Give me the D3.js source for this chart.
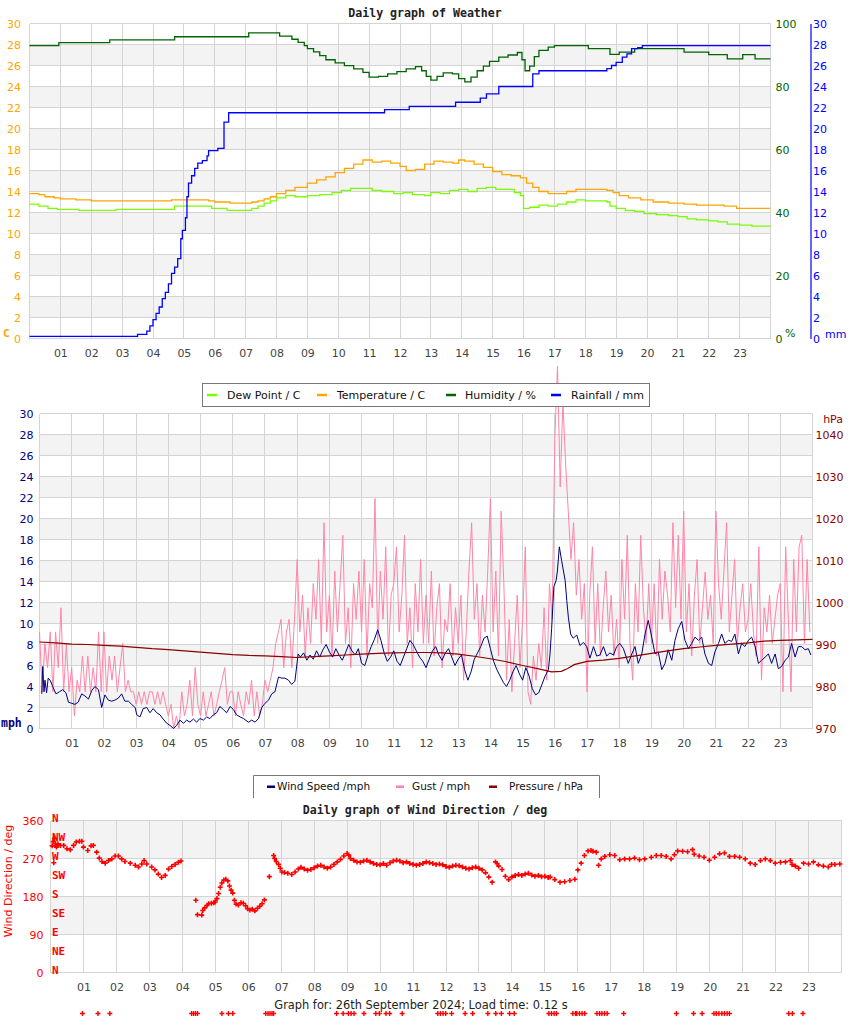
<!DOCTYPE html>
<html lang="en">
<head>
<meta charset="UTF-8">
<title>Daily graph of Weather</title>
<script src="https://d3js.org/d3.v7.min.js"></script>
<style>
    * { margin: 0; padding: 0; box-sizing: border-box; }
    body { background: #fff; font-family: "DejaVu Sans", sans-serif; }
    svg { display: block; }
    .mono { font-family: "DejaVu Sans Mono", monospace; font-weight: bold; }
</style>
</head>
<body>
<div id="chart"></div>
<script>
// ---- data (hour of day, value) ----
const hourLabels = ["01","02","03","04","05","06","07","08","09","10","11","12",
                    "13","14","15","16","17","18","19","20","21","22","23"];
const hourTicks = hourLabels.map(d => +d);

const temperature = [[0,13.8],[0.3,13.7],[0.5,13.5],[0.8,13.4],[1.0,13.3],[1.5,13.2],[2.0,13.1],
    [4.6,13.2],[5.8,13.1],[6.0,13.0],[6.5,12.9],[7.2,13.0],[7.4,13.1],[7.6,13.3],[7.8,13.5],
    [8.0,13.8],[8.3,14.1],[8.6,14.4],[9.0,14.8],[9.3,15.1],[9.6,15.4],[9.9,15.8],[10.2,16.2],
    [10.5,16.6],[10.8,17.0],[11.1,16.8],[11.4,16.9],[11.7,16.7],[12.0,16.4],[12.2,16.0],[12.5,16.1],
    [12.8,16.6],[13.1,16.9],[13.4,16.8],[13.7,16.7],[13.9,17.0],[14.1,16.9],[14.4,16.6],[14.7,16.3],
    [15.0,15.9],[15.3,15.6],[15.6,15.5],[15.9,15.3],[16.1,14.8],[16.3,14.4],[16.5,14.0],[16.8,13.8],
    [17.4,14.0],[17.7,14.2],[18.7,14.1],[18.9,13.9],[19.1,13.6],[19.4,13.4],[19.8,13.2],[20.2,13.0],
    [20.7,12.9],[21.2,12.8],[21.6,12.7],[22.5,12.6],[22.9,12.4],[24,12.4]];

const dewPoint = [[0,12.8],[0.3,12.6],[0.6,12.4],[0.9,12.3],[1.6,12.2],[2.8,12.3],[4.7,12.6],
    [5.9,12.4],[6.4,12.2],[7.2,12.4],[7.4,12.6],[7.6,12.9],[7.8,13.1],[8.0,13.4],[8.3,13.6],
    [8.6,13.5],[9.0,13.6],[9.4,13.7],[9.8,13.9],[10.1,14.1],[10.4,14.3],[11.1,14.1],[11.4,14.0],
    [11.8,13.8],[12.1,13.9],[12.4,13.7],[12.8,13.6],[13.0,13.9],[13.3,13.8],[13.6,14.1],[13.9,14.2],
    [14.2,14.0],[14.5,14.3],[14.8,14.4],[15.1,14.2],[15.7,13.9],[15.9,13.6],[16.0,12.4],[16.2,12.5],
    [16.5,12.7],[16.8,12.6],[17.1,12.8],[17.4,13.0],[17.7,13.2],[18.0,13.1],[18.7,13.0],[18.8,12.6],
    [19.0,12.4],[19.3,12.2],[19.6,12.1],[19.9,11.9],[20.3,11.8],[20.7,11.7],[21.0,11.6],[21.3,11.4],
    [21.6,11.3],[22.0,11.2],[22.3,11.1],[22.6,10.9],[23.0,10.8],[23.4,10.7],[24,10.7]];

const humidity = [[0,93.0],[0.95,93.9],[2.6,94.8],[4.7,95.8],[7.1,97.0],[8.1,96.0],[8.5,95.0],
    [8.7,94.0],[8.9,93.0],[9.0,92.0],[9.2,91.0],[9.4,89.8],[9.6,88.5],[9.9,87.5],[10.2,86.6],
    [10.5,85.6],[10.8,84.5],[11.0,83.0],[11.3,83.2],[11.6,84.0],[11.9,84.7],[12.2,85.6],[12.5,86.3],
    [12.7,85.0],[12.85,83.2],[13.0,82.0],[13.2,83.2],[13.4,84.3],[13.7,84.0],[13.9,82.5],[14.1,81.5],
    [14.3,83.0],[14.5,85.0],[14.7,86.5],[14.9,88.0],[15.2,89.3],[15.5,90.0],[15.8,90.8],[15.95,88.5],
    [16.05,85.0],[16.2,86.5],[16.35,89.5],[16.5,91.5],[16.8,92.5],[17.0,93.0],[18.1,92.0],[18.8,90.2],
    [19.1,90.9],[19.6,92.0],[21.2,90.9],[22.0,90.1],[22.6,88.8],[23.1,90.1],[23.5,88.8],[24,88.8]];

const rainfall = [[0,0.2],[3.5,0.4],[3.8,0.7],[3.9,1.2],[4.0,1.8],[4.1,2.4],[4.2,3.0],[4.3,3.8],
    [4.4,4.4],[4.5,5.2],[4.6,6.2],[4.7,6.8],[4.8,7.6],[4.9,9.5],[4.95,10.3],[5.05,11.5],[5.1,13.5],
    [5.15,14.8],[5.25,15.5],[5.35,16.2],[5.45,16.7],[5.6,16.95],[5.75,17.4],[5.8,17.9],[6.1,18.1],
    [6.3,20.6],[6.45,21.5],[11.5,21.8],[12.3,22.1],[13.8,22.5],[14.6,22.9],[14.8,23.3],[15.2,24.0],
    [16.3,25.2],[16.5,25.5],[18.7,25.7],[18.85,26.0],[19.0,26.3],[19.2,26.8],[19.35,27.1],[19.5,27.6],
    [19.7,27.7],[19.85,27.9],[24,27.9]];

const windSpeed = [[0.07,3.3],[0.1,5.9],[0.14,3.5],[0.17,4.6],[0.22,3.4],[0.27,4.8],[0.33,4.6],
    [0.41,4.0],[0.51,3.3],[0.62,3.5],[0.72,3.7],[0.82,3.4],[0.9,2.5],[1.0,2.4],[1.1,2.3],[1.2,2.5],
    [1.31,3.3],[1.41,3.1],[1.52,2.8],[1.62,3.6],[1.72,4.0],[1.83,3.7],[1.93,2.0],[2.03,3.2],[2.14,2.7],
    [2.24,2.6],[2.34,2.7],[2.45,2.9],[2.55,3.3],[2.65,2.6],[2.76,2.6],[2.86,2.3],[2.97,2.0],[3.02,1.3],
    [3.12,1.1],[3.22,1.9],[3.33,2.0],[3.43,1.5],[3.53,1.9],[3.64,1.5],[3.74,1.3],[3.84,0.9],[3.95,0.5],
    [4.05,0.3],[4.16,0.0],[4.26,0.3],[4.36,0.8],[4.47,0.5],[4.57,0.8],[4.67,0.6],[4.78,0.9],[4.88,0.6],
    [4.98,0.95],[5.09,0.8],[5.19,1.1],[5.29,0.95],[5.4,1.3],[5.5,1.5],[5.6,2.1],[5.71,1.8],[5.81,1.5],
    [5.92,2.1],[6.02,1.8],[6.12,1.3],[6.23,1.1],[6.33,0.95],[6.49,0.6],[6.59,0.8],[6.69,0.6],[6.8,0.95],
    [6.9,2.0],[7.0,2.4],[7.11,2.7],[7.21,3.3],[7.31,3.5],[7.42,4.9],[7.52,4.8],[7.62,4.8],[7.73,4.6],
    [7.83,4.2],[7.93,4.5],[8.03,7.1],[8.1,6.8],[8.2,7.2],[8.3,6.5],[8.4,7.0],[8.5,6.6],[8.6,7.4],
    [8.7,6.8],[8.8,7.5],[8.9,8.0],[9.0,7.3],[9.1,6.8],[9.2,7.6],[9.3,7.0],[9.4,6.5],[9.5,7.2],[9.6,8.0],
    [9.7,7.4],[9.8,7.0],[9.9,7.6],[10.0,6.2],[10.1,6.0],[10.2,7.0],[10.3,7.8],[10.4,8.5],[10.5,9.4],
    [10.6,8.4],[10.7,7.2],[10.8,6.4],[10.9,6.8],[11.0,7.4],[11.1,6.4],[11.2,6.0],[11.3,6.8],[11.4,7.6],
    [11.5,8.4],[11.6,8.0],[11.7,7.4],[11.8,6.8],[11.9,6.4],[12.0,5.8],[12.1,6.6],[12.2,7.4],[12.3,7.8],
    [12.4,7.0],[12.5,6.5],[12.6,7.2],[12.7,7.6],[12.8,6.8],[12.9,6.0],[13.0,6.6],[13.1,7.0],[13.2,5.6],
    [13.3,4.6],[13.4,5.4],[13.5,6.6],[13.6,7.2],[13.7,7.8],[13.8,8.6],[13.9,8.8],[14.0,7.6],[14.1,6.4],
    [14.2,5.6],[14.3,5.0],[14.4,4.4],[14.5,4.0],[14.6,4.6],[14.7,5.4],[14.8,6.0],[14.9,5.2],[15.0,4.6],
    [15.1,5.8],[15.2,5.0],[15.3,3.8],[15.4,3.2],[15.5,3.4],[15.6,4.2],[15.7,5.0],[15.8,5.6],[15.85,7.1],
    [15.9,9.5],[15.97,13.5],[16.04,14.1],[16.08,15.0],[16.14,17.3],[16.21,16.0],[16.32,14.1],[16.37,12.2],
    [16.42,10.6],[16.49,9.0],[16.57,8.6],[16.68,8.9],[16.78,7.9],[16.89,8.2],[16.99,7.8],[17.09,6.7],
    [17.2,7.8],[17.3,6.9],[17.4,7.0],[17.51,7.8],[17.61,6.9],[17.71,7.2],[17.82,7.0],[17.92,7.8],
    [18.02,8.1],[18.13,7.6],[18.28,6.2],[18.39,7.1],[18.49,7.8],[18.59,6.2],[18.7,7.1],[18.8,9.0],
    [18.9,10.3],[19.01,8.7],[19.11,7.1],[19.21,7.3],[19.32,5.6],[19.42,6.2],[19.52,7.5],[19.63,6.5],
    [19.73,8.4],[19.83,9.5],[19.94,10.2],[20.04,8.4],[20.15,7.6],[20.25,8.1],[20.35,8.7],[20.46,8.4],
    [20.56,8.7],[20.66,7.1],[20.77,6.2],[20.87,6.0],[20.97,7.3],[21.08,8.1],[21.18,9.0],[21.28,8.1],
    [21.39,8.4],[21.49,8.3],[21.59,9.0],[21.7,7.1],[21.8,8.1],[21.9,7.8],[22.01,8.4],[22.11,8.7],
    [22.22,7.8],[22.32,6.2],[22.42,6.5],[22.53,6.8],[22.63,7.1],[22.73,6.2],[22.84,7.1],[22.94,5.7],
    [23.04,5.9],[23.15,6.5],[23.25,6.8],[23.35,8.1],[23.46,6.8],[23.56,7.8],[23.66,7.8],[23.77,7.5],
    [23.87,7.6],[23.95,7.0]];

// gust, one reading every 5 minutes from 00:00 (12 per row = 1 hour)
const gust = [
    9.2,3.5,8.1,5.8,9.2,3.5,9.2,5.8,11.5,3.5,8.1,3.5,
    5.8,1.2,4.6,3.5,6.9,3.5,6.9,3.5,5.8,3.5,9.2,3.5,
    9.2,3.5,6.9,4.6,6.9,3.5,5.8,8.1,3.5,4.6,3.5,3.5,
    2.3,3.5,2.3,3.5,2.3,3.5,3.5,2.3,3.5,2.3,3.5,2.3,
    1.2,2.3,0.0,1.2,0.0,3.5,1.2,2.3,4.6,1.2,5.8,2.3,
    1.2,3.5,1.2,2.3,3.5,1.2,2.3,3.5,4.6,5.8,2.3,3.5,
    3.5,1.2,3.5,2.3,1.2,3.5,2.3,4.6,1.2,3.5,1.2,2.3,
    4.6,3.5,4.6,5.8,8.1,9.2,10.4,5.8,9.2,10.4,5.8,10.4,
    16.1,9.2,12.7,6.9,11.5,8.1,13.8,10.4,16.1,8.1,19.6,9.2,
    12.7,6.9,15.0,9.2,13.8,18.4,8.1,11.5,5.8,13.8,10.4,15.0,
    9.2,16.1,6.9,13.8,11.5,21.9,8.1,15.0,10.4,17.3,6.9,12.7,
    13.8,17.3,9.2,12.7,18.4,8.1,11.5,5.8,13.8,9.2,16.1,8.1,
    12.7,8.1,15.0,6.9,11.5,13.8,5.8,10.4,9.2,13.8,6.9,11.5,
    8.1,12.7,4.6,9.2,15.0,19.6,10.4,13.8,6.9,12.7,9.2,15.0,
    21.9,9.2,15.0,6.9,20.7,13.8,4.6,10.4,3.5,8.1,12.7,5.8,
    10.4,17.3,3.5,2.3,6.9,4.6,8.1,5.8,11.5,4.6,13.8,10.4,
    27.6,34.5,23.0,31.1,25.3,20.7,16.1,19.6,12.7,16.1,10.4,13.8,
    3.5,12.7,17.3,8.1,13.8,6.9,11.5,15.0,9.2,12.7,6.9,10.4,
    5.8,16.1,10.4,18.4,8.1,4.6,13.8,9.2,18.4,11.5,8.1,13.8,
    8.1,13.8,6.9,16.1,10.4,15.0,12.7,9.2,19.6,11.5,18.4,10.4,
    20.7,9.2,13.8,6.9,12.7,16.1,8.1,11.5,14.9,10.4,12.7,8.1,
    20.7,13.8,10.4,15.0,19.6,9.2,12.7,16.1,8.1,11.5,13.8,9.2,
    10.4,13.8,9.2,6.9,17.3,4.6,11.5,9.2,12.7,8.1,10.4,12.7,
    13.8,3.5,17.3,10.4,3.5,16.1,9.2,17.3,18.4,8.1,16.1,9.2];

const pressure = [[0,990.6],[0.5,990.4],[1.0,990.1],[1.5,990.0],[2.0,989.8],[2.5,989.6],[3.0,989.3],
    [3.5,989.0],[4.0,988.8],[4.5,988.5],[5.0,988.2],[5.5,987.9],[6.0,987.6],[6.5,987.4],[7.0,987.3],
    [7.5,987.1],[8.0,986.9],[8.5,987.1],[9.0,987.3],[9.5,987.5],[10.0,987.7],[10.5,987.9],[11.0,988.0],
    [11.5,988.1],[12.0,988.1],[12.5,988.0],[13.0,987.7],[13.5,987.2],[14.0,986.6],[14.5,985.9],
    [15.0,985.0],[15.5,984.2],[15.9,983.5],[16.2,983.6],[16.4,984.3],[16.6,985.2],[17.0,986.0],
    [17.5,986.3],[18.0,986.7],[18.5,987.3],[19.0,987.9],[19.5,988.5],[20.0,989.0],[20.5,989.4],
    [21.0,989.8],[21.5,990.1],[22.0,990.4],[22.5,990.8],[23.0,991.0],[23.5,991.1],[24,991.2]];

const windDir = [[0.05,300],[0.08,310],[0.1,260],[0.12,318],[0.15,305],[0.18,297],[0.22,305],
    [0.3,301],[0.4,301],[0.5,293],[0.6,291],[0.7,301],[0.78,309],[0.88,311],[0.95,311],[1.0,297],
    [1.13,289],[1.23,300],[1.3,301],[1.4,285],[1.48,271],[1.56,263],[1.66,259],[1.76,265],[1.86,269],
    [1.96,276],[2.06,276],[2.16,269],[2.26,263],[2.42,259],[2.57,254],[2.67,250],[2.77,257],[2.84,265],
    [2.92,257],[3.07,250],[3.17,243],[3.27,233],[3.37,225],[3.48,230],[3.58,245],[3.68,251],[3.78,256],
    [3.88,261],[3.96,264],
    [4.41,171],[4.46,137],[4.59,136],[4.62,147],[4.68,153],[4.75,159],[4.8,163],[4.88,164],[4.95,165],
    [5.0,167],[5.05,175],[5.1,187],[5.15,202],[5.2,212],[5.26,219],[5.32,221],[5.38,217],[5.43,205],
    [5.48,195],[5.53,188],[5.58,171],[5.63,162],[5.7,160],[5.78,165],[5.85,164],[5.92,158],[5.98,151],
    [6.05,148],[6.12,150],[6.2,146],[6.28,152],[6.35,157],[6.42,163],[6.49,172],
    [6.64,227],[6.77,277],[6.8,270],[6.85,263],[6.92,256],[6.97,247],[7.02,238],[7.1,237],[7.2,235],
    [7.32,232],[7.42,238],[7.52,245],[7.6,249],[7.7,245],[7.8,242],[7.9,244],[8.0,248],[8.1,252],
    [8.2,254],[8.3,250],[8.4,247],[8.5,250],[8.6,256],[8.7,262],[8.8,268],[8.9,276],[9.0,282],[9.05,278],
    [9.1,270],[9.2,266],[9.3,262],[9.4,261],[9.5,264],[9.6,266],[9.7,262],[9.8,258],[9.9,256],[10.0,255],
    [10.1,258],[10.2,254],[10.3,260],[10.4,264],[10.5,266],[10.6,264],[10.7,260],[10.8,262],[10.9,258],
    [11.0,256],[11.1,254],[11.2,256],[11.3,258],[11.4,262],[11.5,260],[11.6,258],[11.7,256],[11.8,257],
    [11.9,255],[12.0,251],[12.1,249],[12.2,252],[12.3,254],[12.4,253],[12.5,250],[12.6,247],[12.7,245],
    [12.8,248],[12.9,250],[13.0,247],[13.1,243],[13.2,236],[13.3,226],[13.4,214],[13.5,262],[13.55,258],
    [13.6,252],[13.7,244],[13.8,228],[13.9,220],[14.0,226],[14.1,230],[14.2,232],[14.3,230],[14.4,233],
    [14.5,235],[14.6,231],[14.7,228],[14.8,230],[14.9,227],[15.0,228],[15.1,225],[15.16,226],[15.3,220],
    [15.46,214],[15.6,215],[15.76,218],[15.91,221],[16.0,243],[16.1,259],[16.2,277],[16.31,288],
    [16.4,289],[16.46,287],[16.56,285],[16.63,254],[16.71,269],[16.82,275],[16.97,279],[17.12,277],
    [17.27,267],[17.42,269],[17.57,269],[17.72,271],[17.87,267],[18.03,269],[18.23,273],[18.38,277],
    [18.53,277],[18.68,275],[18.83,269],[18.93,279],[19.03,288],[19.18,287],[19.33,286],[19.48,291],
    [19.53,280],[19.68,276],[19.83,273],[19.99,266],[20.15,273],[20.3,281],[20.45,283],[20.6,275],
    [20.76,275],[20.91,273],[21.08,269],[21.23,259],[21.38,256],[21.54,265],[21.69,269],[21.84,265],
    [21.99,259],[22.15,261],[22.3,262],[22.45,265],[22.5,256],[22.6,252],[22.7,247],[22.85,259],
    [23.0,257],[23.15,262],[23.3,255],[23.45,252],[23.6,250],[23.7,256],[23.8,256],[23.95,257]];

// readings with no direction (calm) are plotted below the chart
const calmDeg = -97;
const calmHours = [0.97,1.44,1.80,4.28,4.34,4.40,4.46,5.20,5.40,5.53,6.53,6.60,6.66,6.72,6.77,
    8.68,8.88,9.04,9.12,9.21,9.51,9.87,9.98,10.18,10.29,10.67,11.75,11.83,11.91,11.99,12.17,12.58,
    12.81,13.27,13.51,13.68,13.93,14.07,15.12,15.20,15.28,15.35,15.85,15.93,15.97,16.05,16.13,16.21,
    16.58,16.66,16.73,16.81,16.89,17.39,18.99,19.51,19.77,20.13,20.20,20.28,20.37,20.45,20.53,20.60,
    22.40,22.51,22.83];

const compass = [[360,"N"],[315,"NW"],[270,"W"],[225,"SW"],[180,"S"],[135,"SE"],[90,"E"],[45,"NE"],[0,"N"]];

const legend1 = [["Dew Point / C","#7cfc00"],["Temperature / C","#ffa500"],["Humidity / %","#006400"],["Rainfall / mm","#0000ff"]];
const legend2 = [["Wind Speed /mph","#000080"],["Gust / mph","#ff85a8"],["Pressure / hPa","#8b0000"]];

// ---- drawing ----
const svg = d3.select("#chart").append("svg")
    .attr("width", 850)
    .attr("height", 1017);

const grid = "#d4d4d4";

function frame(x, y, bands, gridVals, labelPad) {
    const g = svg.append("g");
    const [y0, y1] = y.range();
    g.selectAll("rect.band").data(bands).join("rect")
        .attr("x", x(0)).attr("width", x(24) - x(0))
        .attr("y", d => y(d[1])).attr("height", d => y(d[0]) - y(d[1]))
        .attr("fill", "#f3f3f3");
    g.selectAll("line.h").data(gridVals).join("line")
        .attr("x1", x(0)).attr("x2", x(24))
        .attr("y1", d => y(d)).attr("y2", d => y(d))
        .attr("stroke", grid).attr("shape-rendering", "crispEdges");
    g.selectAll("line.v").data([0].concat(hourTicks, [24])).join("line")
        .attr("x1", d => x(d)).attr("x2", d => x(d))
        .attr("y1", y0).attr("y2", y1)
        .attr("stroke", grid).attr("shape-rendering", "crispEdges");
    const ax = g.append("g")
        .attr("transform", `translate(0,${y0})`)
        .call(d3.axisBottom(x).tickValues(hourTicks).tickFormat((d, i) => hourLabels[i])
            .tickSize(0).tickPadding(labelPad));
    ax.select(".domain").remove();
    ax.selectAll("text").attr("fill", "#444").style("font-size", "11px")
        .style("font-family", "DejaVu Sans, sans-serif");
}

function valueAxis(gen, pos, color, pad, ticks, showDomain) {
    const g = svg.append("g").attr("transform", `translate(${pos},0)`)
        .call(gen.tickValues(ticks).tickFormat(d3.format("d")).tickSize(0).tickPadding(pad));
    if (showDomain) g.select(".domain").attr("stroke", color).attr("stroke-width", 1.2);
    else g.select(".domain").remove();
    g.selectAll("text").attr("fill", color).style("font-size", "11px")
        .style("font-family", "DejaVu Sans, sans-serif");
    return g;
}

function title(txt, cx, cy) {
    svg.append("text").attr("class", "mono")
        .attr("x", cx).attr("y", cy).attr("dy", "0.35em")
        .attr("text-anchor", "middle").attr("fill", "#222")
        .style("font-size", "11.6px").text(txt);
}

const evenBands = [[2,4],[6,8],[10,12],[14,16],[18,20],[22,24],[26,28]];
const twoStep = d3.range(0, 31, 2);

// ===== Panel 1: temperature / humidity / rain =====
const x1 = d3.scaleLinear().domain([0, 24]).range([29.5, 770.5]);
const yC = d3.scaleLinear().domain([0, 30]).range([338.5, 23.5]);
const yHum = d3.scaleLinear().domain([0, 100]).range([338.5, 23.5]);
const yRain = d3.scaleLinear().domain([0, 30]).range([338.5, 23.5]);

title("Daily graph of Weather", 425, 13);
frame(x1, yC, evenBands, twoStep, 11);
valueAxis(d3.axisLeft(yC), 29.5, "#ffa500", 8.5, twoStep, false);
valueAxis(d3.axisRight(yHum), 770.5, "#006400", 5, d3.range(0, 101, 20), false);
valueAxis(d3.axisRight(yRain), 810.5, "#0000ff", 2.5, twoStep, true);

svg.append("text").attr("class", "mono").attr("x", 3).attr("y", 333).attr("dy", "0.35em")
    .attr("fill", "#ffa500").style("font-size", "11px").text("C");
svg.append("text").attr("x", 785).attr("y", 333).attr("dy", "0.35em")
    .attr("fill", "#006400").style("font-size", "11px").text("%");
svg.append("text").attr("x", 825).attr("y", 334).attr("dy", "0.35em")
    .attr("fill", "#0000ff").style("font-size", "11px").text("mm");

const stepLine = (x, y) => d3.line().x(d => x(d[0])).y(d => y(d[1])).curve(d3.curveStepAfter);
const plainLine = (x, y) => d3.line().x(d => x(d[0])).y(d => y(d[1]));

[[dewPoint, yC, "#7cfc00"], [temperature, yC, "#ffa500"], [humidity, yHum, "#006400"], [rainfall, yRain, "#0000ff"]]
    .forEach(([data, y, color]) => {
        svg.append("path").datum(data)
            .attr("fill", "none").attr("stroke", color).attr("stroke-width", 1.3)
            .attr("d", stepLine(x1, y));
    });

// ===== Panel 2: wind speed / gust / pressure =====
const x2 = d3.scaleLinear().domain([0, 24]).range([39.5, 812.5]);
const yWind = d3.scaleLinear().domain([0, 30]).range([728.5, 413.5]);
const yPres = d3.scaleLinear().domain([970, 1045]).range([728.5, 413.5]);

frame(x2, yWind, evenBands, twoStep, 10.5);
valueAxis(d3.axisLeft(yWind), 39.5, "#000080", 6, twoStep, false);
valueAxis(d3.axisRight(yPres), 812.5, "#8b0000", 3, d3.range(970, 1041, 10), false);
svg.append("text").attr("class", "mono").attr("x", 1).attr("y", 723).attr("dy", "0.35em")
    .attr("fill", "#000080").style("font-size", "11.5px").text("mph");
svg.append("text").attr("x", 843).attr("y", 419).attr("dy", "0.35em").attr("text-anchor", "end")
    .attr("fill", "#8b0000").style("font-size", "11px").text("hPa");

svg.append("path").datum(gust.map((v, i) => [i / 12, v]))
    .attr("fill", "none").attr("stroke", "#ff85a8").attr("stroke-width", 1)
    .attr("d", plainLine(x2, yWind));
svg.append("path").datum(windSpeed)
    .attr("fill", "none").attr("stroke", "#000080").attr("stroke-width", 1)
    .attr("d", plainLine(x2, yWind));
svg.append("path").datum(pressure)
    .attr("fill", "none").attr("stroke", "#8b0000").attr("stroke-width", 1.2)
    .attr("d", plainLine(x2, yPres));

// legend of panel 1 sits over the top of panel 2
function legend(items, box, textX, swatchW, fs, openBottom) {
    const g = svg.append("g");
    g.append("rect").attr("x", box[0]).attr("y", box[1]).attr("width", box[2] - box[0])
        .attr("height", box[3] - box[1]).attr("fill", "#fff");
    if (openBottom) {
        g.append("path").attr("d", `M${box[0]},${box[3]}V${box[1]}H${box[2]}V${box[3]}`)
            .attr("fill", "none").attr("stroke", "#777");
    } else {
        g.append("rect").attr("x", box[0]).attr("y", box[1]).attr("width", box[2] - box[0])
            .attr("height", box[3] - box[1]).attr("fill", "none").attr("stroke", "#777");
    }
    const cy = (box[1] + box[3]) / 2;
    items.forEach(([label, color], i) => {
        g.append("line").attr("x1", textX[i][0]).attr("x2", textX[i][0] + swatchW)
            .attr("y1", cy).attr("y2", cy).attr("stroke", color).attr("stroke-width", 2.5);
        g.append("text").attr("x", textX[i][1]).attr("y", cy).attr("dy", "0.35em")
            .attr("fill", "#111").style("font-size", fs).text(label);
    });
}
legend(legend1, [202.5, 383.5, 649.5, 406.5], [[207, 227], [317, 337], [446, 465], [551, 571]], 10, "11px", false);
legend(legend2, [253.5, 775.5, 599.5, 798], [[267, 277], [396, 412], [489, 509]], 8, "10.5px", true);

// ===== Panel 3: wind direction =====
const x3 = d3.scaleLinear().domain([0, 24]).range([50.5, 841.5]);
const yDir = d3.scaleLinear().domain([0, 360]).range([972.5, 820.5]);

title("Daily graph of Wind Direction / deg", 425, 810);
frame(x3, yDir, [[90, 180], [270, 360]], [0, 90, 180, 270, 360], 10.5);
valueAxis(d3.axisLeft(yDir), 50.5, "#ff0000", 7, [0, 90, 180, 270, 360], false);

svg.append("g").selectAll("text").data(compass).join("text")
    .attr("class", "mono").attr("x", 52).attr("y", d => yDir(d[0]) - 2).attr("dy", "0.35em")
    .attr("fill", "#ff0000").style("font-size", "11px").text(d => d[1]);

svg.append("text").attr("transform", "translate(12,881) rotate(-90)")
    .attr("text-anchor", "middle").attr("fill", "#ff0000").style("font-size", "11px")
    .text("Wind Direction / deg");

const cross = pts => pts.map(([px, py]) => `M${px - 2.5},${py}h5M${px},${py - 2.5}v5`).join("");
svg.append("path")
    .attr("d", cross(windDir.map(d => [x3(d[0]), yDir(d[1])])))
    .attr("stroke", "#ff0000").attr("stroke-width", 1.6).attr("fill", "none");
svg.append("path")
    .attr("d", cross(calmHours.map(h => [x3(h), yDir(calmDeg)])))
    .attr("stroke", "#ff0000").attr("stroke-width", 1.4).attr("fill", "none");

svg.append("text").attr("x", 421).attr("y", 1005).attr("dy", "0.35em")
    .attr("text-anchor", "middle").attr("fill", "#222").style("font-size", "11.4px")
    .text("Graph for: 26th September 2024; Load time: 0.12 s");
</script>
</body>
</html>
